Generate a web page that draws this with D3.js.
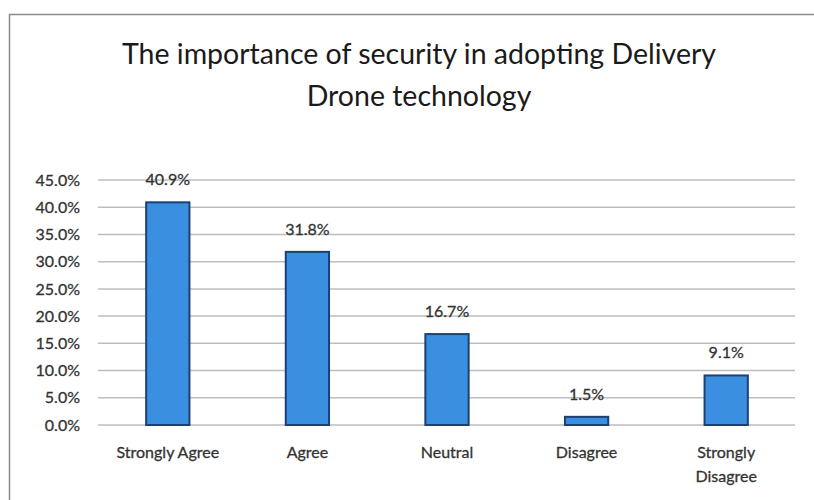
<!DOCTYPE html>
<html>
<head>
<meta charset="utf-8">
<script src="https://cdn.jsdelivr.net/npm/d3@7"></script>
<style>
  html, body { margin: 0; padding: 0; background: #ffffff; }
  svg { display: block; }
</style>
</head>
<body>
<svg id="chart" width="814" height="500"></svg>
<script>
// Survey responses: share of respondents per answer
const categories = ["Strongly Agree", "Agree", "Neutral", "Disagree", "Strongly Disagree"];
const shares = [40.9, 31.8, 16.7, 1.5, 9.1];
const yTicks = [0, 5, 10, 15, 20, 25, 30, 35, 40, 45];
const titleLines = ["The importance of security in adopting Delivery", "Drone technology"];

const font = "Lato, 'Open Sans', sans-serif";
const textColor = "#333333";

const svg = d3.select("#chart");

// chart frame
svg.append("rect")
  .attr("x", 9.5).attr("y", 14.5)
  .attr("width", 820).attr("height", 500)
  .attr("fill", "#ffffff")
  .attr("stroke", "#8a8a8a")
  .attr("stroke-width", 1.5);

// title
svg.append("g").selectAll("text")
  .data(titleLines)
  .join("text")
  .attr("x", 419)
  .attr("y", (d, i) => 64 + i * 42)
  .attr("text-anchor", "middle")
  .attr("font-family", font)
  .attr("font-size", 28.5)
  .attr("fill", "#1a1a1a")
  .text(d => d);

const x = d3.scaleBand()
  .domain(categories)
  .range([98, 796])
  .paddingInner(0.69)
  .paddingOuter(0.345);

const y = d3.scaleLinear()
  .domain([0, 45])
  .range([425, 180]);

// gridlines
svg.append("g")
  .selectAll("line")
  .data(yTicks)
  .join("line")
  .attr("x1", 98).attr("x2", 795)
  .attr("y1", d => y(d)).attr("y2", d => y(d))
  .attr("stroke", "#bdbdbd")
  .attr("stroke-width", 1.5);

// y axis labels
const yAxis = svg.append("g")
  .attr("transform", "translate(80,0)")
  .call(d3.axisLeft(y).tickValues(yTicks).tickSize(0).tickPadding(0)
    .tickFormat(d => d.toFixed(1) + "%"));
yAxis.select(".domain").remove();
yAxis.selectAll("text")
  .attr("font-family", font)
  .attr("font-size", 16)
  .attr("fill", textColor)
  .attr("stroke", textColor)
  .attr("stroke-width", 0.3);

// bars
svg.append("g")
  .selectAll("rect")
  .data(shares)
  .join("rect")
  .attr("x", (d, i) => x(categories[i]))
  .attr("y", d => y(d))
  .attr("width", x.bandwidth())
  .attr("height", d => y(0) - y(d))
  .attr("fill", "#3b8fe0")
  .attr("stroke", "#1d3f73")
  .attr("stroke-width", 2);

// value labels
svg.append("g")
  .selectAll("text")
  .data(shares)
  .join("text")
  .attr("x", (d, i) => x(categories[i]) + x.bandwidth() / 2)
  .attr("y", d => y(d) - 17)
  .attr("text-anchor", "middle")
  .attr("font-family", font)
  .attr("font-size", 16)
  .attr("fill", textColor)
  .attr("stroke", textColor)
  .attr("stroke-width", 0.3)
  .text(d => d.toFixed(1) + "%");

// category labels (wrapped where two words don't fit)
const xAxis = svg.append("g");
categories.forEach(c => {
  const lines = c === "Strongly Disagree" ? ["Strongly", "Disagree"] : [c];
  const t = xAxis.append("text")
    .attr("x", x(c) + x.bandwidth() / 2)
    .attr("y", 458)
    .attr("text-anchor", "middle")
    .attr("font-family", font)
    .attr("font-size", 16)
    .attr("fill", textColor)
    .attr("stroke", textColor)
    .attr("stroke-width", 0.3);
  lines.forEach((l, i) => {
    t.append("tspan")
      .attr("x", x(c) + x.bandwidth() / 2)
      .attr("dy", i === 0 ? 0 : 24)
      .text(l);
  });
});
</script>
</body>
</html>
